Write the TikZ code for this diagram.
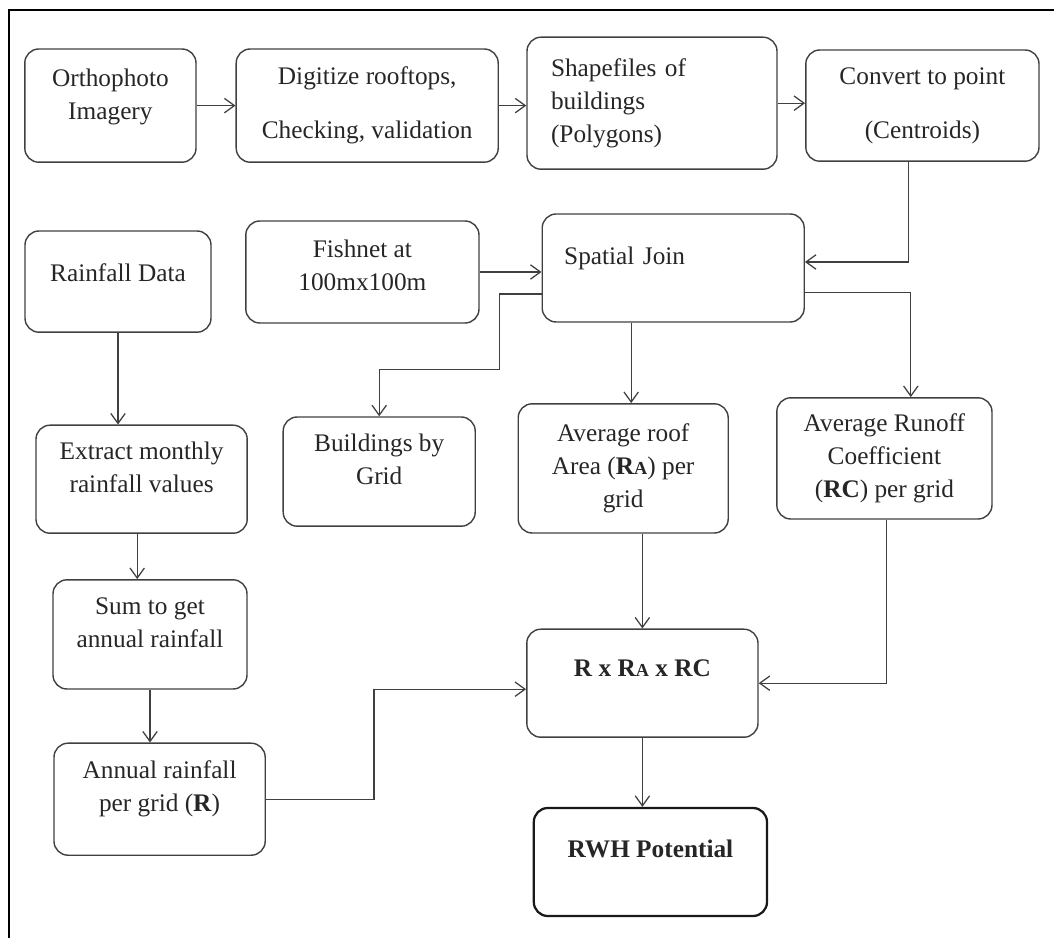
\documentclass[tikz,border=0pt]{standalone}
\usepackage{fontspec}
\setmainfont{Liberation Serif}
\usepackage{tikz}
\usetikzlibrary{arrows.meta}

\newcommand{\subA}{{\fontsize{13}{13}\selectfont A}}
\newcommand{\lift}[1]{\rule[-#1]{0pt}{0pt}}
\tikzset{
  box/.style={draw=black!75,line width=1pt,rounded corners=0.35cm,align=center,inner sep=2pt,
    font=\fontsize{18}{23.5}\selectfont,text=black!85},
  flow/.style={draw=black!75,line width=0.9pt,-{Straight Barb[length=2.5mm,width=3.6mm]}},
}

\begin{document}
\begin{tikzpicture}
\useasboundingbox (0,0) rectangle (26.35,-23.45);
\draw[line width=2pt] (0.225,-23.45) -- (0.225,-0.25) -- (26.35,-0.25);

\node[box,minimum width=4.28cm,minimum height=2.83cm] (ortho) at (2.76,-2.64) {Orthophoto\\Imagery\lift{0.59cm}};
\node[box,minimum width=6.55cm,minimum height=2.83cm] (digit) at (9.18,-2.64) {Digitize rooftops,\\[0.53cm]Checking, validation};
\node[box,minimum width=6.25cm,minimum height=3.3cm,text width=5.05cm,align=left] (shape) at (16.3,-2.58) {Shapefiles of\\buildings\\(Polygons)};
\node[box,minimum width=5.83cm,minimum height=2.78cm] (conv) at (23.06,-2.64) {Convert to point\\[0.53cm](Centroids)};
\node[box,minimum width=4.65cm,minimum height=2.53cm] (rain) at (2.95,-7.04) {Rainfall Data\lift{0.47cm}};
\node[box,minimum width=5.83cm,minimum height=2.55cm] (fish) at (9.06,-6.8) {Fishnet at\\100mx100m\lift{0.34cm}};
\node[box,minimum width=6.55cm,minimum height=2.7cm,text width=5.45cm,align=left,text depth=0.6cm] (spat) at (16.83,-6.7) {Spatial Join};
\node[box,minimum width=5.28cm,minimum height=2.7cm] (extr) at (3.54,-11.98) {Extract monthly\\rainfall values\lift{0.61cm}};
\node[box,minimum width=4.8cm,minimum height=2.73cm] (bldg) at (9.48,-11.79) {Buildings by\\Grid\lift{0.64cm}};
\node[box,minimum width=5.25cm,minimum height=3.23cm] (roof) at (15.58,-11.71) {Average roof\\Area (\textbf{R\subA}) per\\grid};
\node[box,minimum width=5.38cm,minimum height=3.03cm] (runoff) at (22.11,-11.46) {Average Runoff\\Coefficient\\(\textbf{RC}) per grid};
\node[box,minimum width=4.85cm,minimum height=2.73cm] (sum) at (3.75,-15.86) {Sum to get\\annual rainfall\lift{0.61cm}};
\node[box,minimum width=5.28cm,minimum height=2.8cm] (annual) at (3.99,-19.98) {Annual rainfall\\per grid (\textbf{R})\lift{0.66cm}};
\node[box,minimum width=5.78cm,minimum height=2.7cm] (rxr) at (16.06,-17.08) {\textbf{R x R\subA{} x RC}\lift{0.74cm}};
\node[box,minimum width=5.83cm,minimum height=2.7cm,line width=1.6pt,draw=black!90] (rwh) at (16.26,-21.55) {\textbf{RWH Potential}\lift{0.64cm}};

\draw[flow] (ortho) -- (digit);
\draw[flow] (digit.east) -- (digit.east -| shape.west);
\draw[flow] (shape.east) -- (shape.east -| conv.west);
\draw[flow] ([xshift=-0.34cm]conv.south) |- ([yshift=0.15cm]spat.east);
\draw[flow] (fish.east) -- (fish.east -| spat.west);
\coordinate (bend) at (12.48,-9.23);
\draw[flow] ([yshift=-0.65cm]spat.west) -| (bend) -| (bldg.north);
\draw[flow] ([xshift=0.2cm]roof.north |- spat.south) -- ([xshift=0.2cm]roof.north);
\draw[flow] ([yshift=-0.62cm]spat.east) -| ([xshift=0.66cm]runoff.north);
\draw[flow] (rain.south) -- (rain.south |- extr.north);
\draw[flow] ([xshift=-0.11cm]extr.south) -- ([xshift=-0.11cm]extr.south |- sum.north);
\draw[flow] (sum.south) -- (sum.south |- annual.north);
\coordinate (kink) at (9.35,-17.23);
\draw[flow] (annual.east) -| (kink) -- (kink -| rxr.west);
\draw[flow] (roof.south -| rxr.north) -- (rxr.north);
\draw[flow] ([xshift=0.06cm]runoff.south) |- (rxr.east);
\draw[flow] (rxr.south) -- (rxr.south |- rwh.north);
\end{tikzpicture}
\end{document}
